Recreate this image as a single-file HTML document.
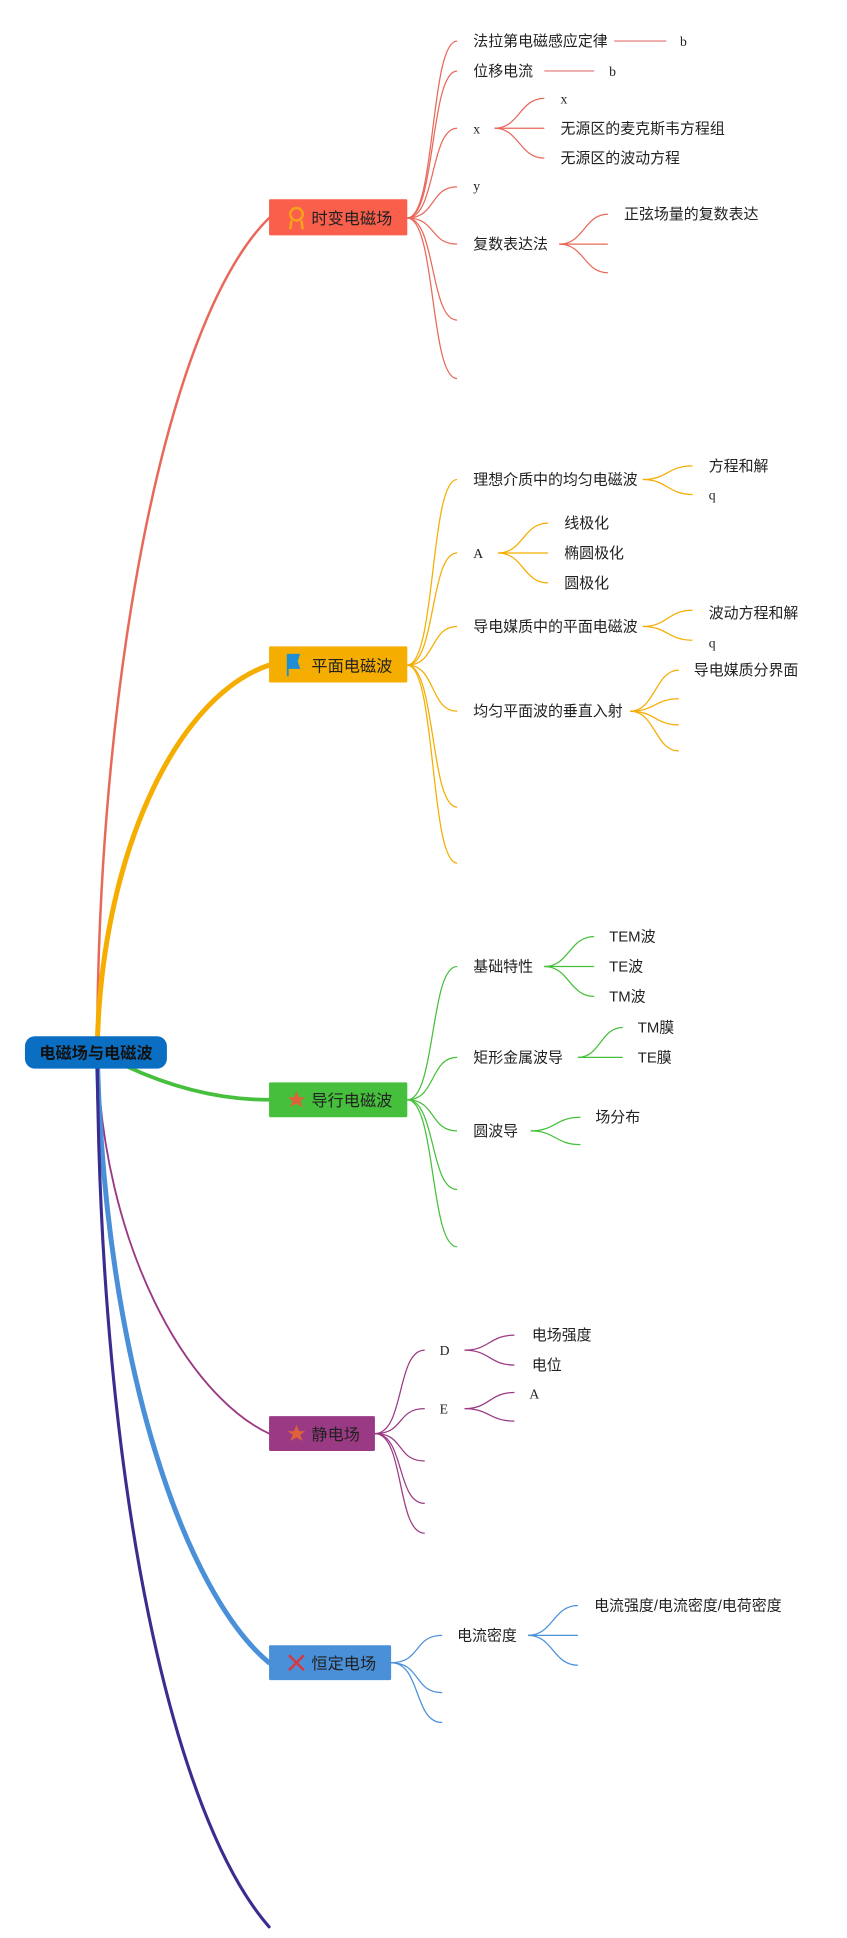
<!DOCTYPE html>
<html><head><meta charset="utf-8"><style>
html,body{margin:0;padding:0;background:#fff;}
svg{display:block;}
text{font-family:"Liberation Sans","Noto Sans CJK SC",sans-serif;fill:#222;}
text.s{font-family:"Liberation Serif",serif;}
</style></head><body>
<svg width="847" height="1938" viewBox="0 0 680 1556" xmlns="http://www.w3.org/2000/svg">
<g fill="none" stroke-linecap="round">
<path d="M78,845 C78,560 130,260 216,175" stroke="#e8685a" stroke-width="2"/>
<path d="M78,845 C80,690 140,560 216,534" stroke="#f5ad00" stroke-width="4"/>
<path d="M95,853 C140,875 180,883 216,883" stroke="#46c03c" stroke-width="3"/>
<path d="M78,845 C82,1000 150,1120 216,1151" stroke="#9b3a84" stroke-width="1.5"/>
<path d="M78,845 C84,1100 150,1280 216,1335" stroke="#4a90d9" stroke-width="4"/>
<path d="M78,845 C80,1200 140,1460 216,1547" stroke="#3a2d8f" stroke-width="2.5"/>
</g>
<g fill="none" stroke="#e8685a" stroke-width="1">
<path d="M327,175 C350,175 345,33 367,33"/><path d="M327,175 C350,175 345,57 367,57"/>
<path d="M327,175 C350,175 345,103 367,103"/><path d="M327,175 C350,175 345,150 367,150"/>
<path d="M327,175 C350,175 345,196 367,196"/><path d="M327,175 C350,175 345,257 367,257"/>
<path d="M327,175 C350,175 345,304 367,304"/>
<path d="M493,33 L535,33" stroke="#eaa" stroke-width="1.5"/><path d="M437,57 L477,57" stroke="#eaa" stroke-width="1.5"/>
<path d="M397,103 C417,103 417,79 437,79"/><path d="M397,103 L437,103"/><path d="M397,103 C417,103 417,127 437,127"/>
<path d="M449,196 C469,196 469,172 488,172"/><path d="M449,196 L488,196"/><path d="M449,196 C469,196 469,219 488,219"/>
</g>
<g fill="none" stroke="#f5ad00" stroke-width="1">
<path d="M327,534 C350,534 345,385 367,385"/><path d="M327,534 C350,534 345,444 367,444"/>
<path d="M327,534 C350,534 345,503 367,503"/><path d="M327,534 C350,534 345,571 367,571"/>
<path d="M327,534 C350,534 345,648 367,648"/><path d="M327,534 C350,534 345,693 367,693"/>
<path d="M516,385 C536,385 536,374 556,374"/><path d="M516,385 C536,385 536,397 556,397"/>
<path d="M400,444 C420,444 420,420 440,420"/><path d="M400,444 L440,444"/><path d="M400,444 C420,444 420,468 440,468"/>
<path d="M516,503 C536,503 536,490 556,490"/><path d="M516,503 C536,503 536,514 556,514"/>
<path d="M506,571 C526,571 526,538 545,538"/><path d="M506,571 C526,571 526,561 545,561"/>
<path d="M506,571 C526,571 526,582 545,582"/><path d="M506,571 C526,571 526,603 545,603"/>
</g>
<g fill="none" stroke="#46c03c" stroke-width="1">
<path d="M327,883 C350,883 345,776 367,776"/><path d="M327,883 C350,883 345,849 367,849"/>
<path d="M327,883 C350,883 345,908 367,908"/><path d="M327,883 C350,883 345,955 367,955"/>
<path d="M327,883 C350,883 345,1001 367,1001"/>
<path d="M437,776 C457,776 457,752 477,752"/><path d="M437,776 L477,776"/><path d="M437,776 C457,776 457,800 477,800"/>
<path d="M464,849 C482,849 482,825 500,825"/><path d="M464,849 L500,849"/>
<path d="M426,908 C446,908 446,897 466,897"/><path d="M426,908 C446,908 446,919 466,919"/>
</g>
<g fill="none" stroke="#9b3a84" stroke-width="1">
<path d="M301,1151 C325,1151 318,1084 341,1084"/><path d="M301,1151 C325,1151 318,1131 341,1131"/>
<path d="M301,1151 C325,1151 318,1173 341,1173"/><path d="M301,1151 C325,1151 318,1207 341,1207"/>
<path d="M301,1151 C325,1151 318,1231 341,1231"/>
<path d="M373,1084 C393,1084 393,1072 413,1072"/><path d="M373,1084 C393,1084 393,1096 413,1096"/>
<path d="M373,1131 C393,1131 393,1118 413,1118"/><path d="M373,1131 C393,1131 393,1141 413,1141"/>
</g>
<g fill="none" stroke="#4a90d9" stroke-width="1">
<path d="M314,1335 C338,1335 332,1313 355,1313"/><path d="M314,1335 C338,1335 332,1359 355,1359"/>
<path d="M314,1335 C338,1335 332,1383 355,1383"/>
<path d="M424,1313 C444,1313 444,1289 464,1289"/><path d="M424,1313 L464,1313"/><path d="M424,1313 C444,1313 444,1337 464,1337"/>
</g>
<rect x="20" y="832" width="114" height="26" rx="8" fill="#0a6fc2"/>
<text x="77" y="850" font-size="13" font-weight="bold" text-anchor="middle" style="fill:#111">电磁场与电磁波</text>
<rect x="216" y="160" width="111" height="29" rx="1" fill="#fa5f4b"/>
<circle cx="238" cy="172" r="5" fill="none" stroke="#f7a21b" stroke-width="2"/><path d="M234,177 L233,184 M242,177 L243,184" stroke="#f7a21b" stroke-width="2"/>
<text x="250" y="180" font-size="13">时变电磁场</text>
<rect x="216" y="519" width="111" height="29" rx="1" fill="#f5ad00"/>
<path d="M231,525 L241,525 L239,531 L241,537 L231,537 Z" fill="#1e8fd6"/><path d="M231,525 L231,543" stroke="#1e8fd6" stroke-width="1.5"/>
<text x="250" y="539" font-size="13">平面电磁波</text>
<rect x="216" y="869" width="111" height="28" rx="1" fill="#46c03c"/>
<polygon points="238,876 240,881 245,881 241,884 243,889 238,886 233,889 235,884 231,881 236,881" fill="#e0603a"/>
<text x="250" y="888" font-size="13">导行电磁波</text>
<rect x="216" y="1137" width="85" height="28" rx="1" fill="#9b3a84"/>
<polygon points="238,1144 240,1149 245,1149 241,1152 243,1157 238,1154 233,1157 235,1152 231,1149 236,1149" fill="#e0603a"/>
<text x="250" y="1156" font-size="13">静电场</text>
<rect x="216" y="1321" width="98" height="28" rx="1" fill="#4a90d9"/>
<path d="M232,1329 L244,1341 M244,1329 L232,1341" stroke="#d9363e" stroke-width="2"/>
<text x="250" y="1340" font-size="13">恒定电场</text>
<g font-size="12">
<text x="380" y="37">法拉第电磁感应定律</text><text class="s" x="546" y="37" font-size="11">b</text>
<text x="380" y="61">位移电流</text><text class="s" x="489" y="61" font-size="11">b</text>
<text class="s" x="380" y="107" font-size="11">x</text>
<text class="s" x="450" y="83" font-size="11">x</text><text x="450" y="107">无源区的麦克斯韦方程组</text><text x="450" y="131">无源区的波动方程</text>
<text class="s" x="380" y="153" font-size="11">y</text>
<text x="380" y="200">复数表达法</text><text x="501" y="176">正弦场量的复数表达</text>
<text x="380" y="389">理想介质中的均匀电磁波</text><text x="569" y="378">方程和解</text><text class="s" x="569" y="401" font-size="11">q</text>
<text class="s" x="380" y="448" font-size="11">A</text><text x="453" y="424">线极化</text><text x="453" y="448">椭圆极化</text><text x="453" y="472">圆极化</text>
<text x="380" y="507">导电媒质中的平面电磁波</text><text x="569" y="496">波动方程和解</text><text class="s" x="569" y="520" font-size="11">q</text>
<text x="380" y="575">均匀平面波的垂直入射</text><text x="557" y="542">导电媒质分界面</text>
<text x="380" y="780">基础特性</text><text x="489" y="756">TEM波</text><text x="489" y="780">TE波</text><text x="489" y="804">TM波</text>
<text x="380" y="853">矩形金属波导</text><text x="512" y="829">TM膜</text><text x="512" y="853">TE膜</text>
<text x="380" y="912">圆波导</text><text x="478" y="901">场分布</text>
<text class="s" x="353" y="1088" font-size="11">D</text><text x="427" y="1076">电场强度</text><text x="427" y="1100">电位</text>
<text class="s" x="353" y="1135" font-size="11">E</text><text class="s" x="425" y="1123" font-size="11">A</text>
<text x="367" y="1317">电流密度</text><text x="477" y="1293">电流强度/电流密度/电荷密度</text>
</g>
</svg>
</body></html>
